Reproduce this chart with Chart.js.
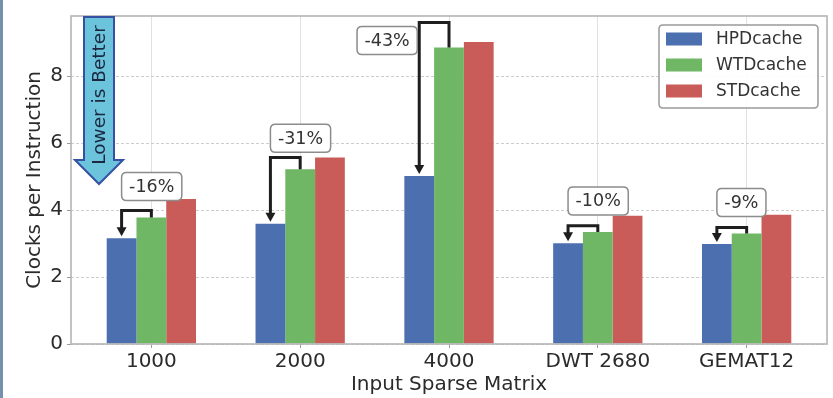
<!DOCTYPE html>
<html>
<head>
<meta charset="utf-8">
<script src="https://cdn.jsdelivr.net/npm/chart.js@4"></script>
<style>
  html, body { margin: 0; padding: 0; background: #fff; }
  #wrap { width: 833px; height: 398px; }
</style>
</head>
<body>
<div id="wrap"><canvas id="cpi" width="833" height="398"></canvas></div>
<script>
// Clocks per instruction for each input sparse matrix
const categories = ['1000', '2000', '4000', 'DWT 2680', 'GEMAT12'];
const seriesNames = ['HPDcache', 'WTDcache', 'STDcache'];
const hpdCPI = [3.16, 3.59, 5.02, 3.01, 2.99];
const wtdCPI = [3.78, 5.22, 8.86, 3.35, 3.30];
const stdCPI = [4.33, 5.57, 9.02, 3.83, 3.86];
const yTicks = [0, 2, 4, 6, 8];

const COLORS = ['#4c6fb0', '#6fb665', '#c95c58'];
const FONT = '"DejaVu Sans", "Liberation Sans", sans-serif';
const TEXT = '#2b2b2b';

// HPDcache change relative to WTDcache, in percent
const reductions = hpdCPI.map((h, i) => Math.round((h / wtdCPI[i] - 1) * 100) + '%');

const toPoints = arr => arr.map((v, i) => ({ x: i, y: v }));

// page background plus the thin slate strip on the left edge
const backdrop = {
  id: 'backdrop',
  beforeDraw(chart) {
    const { ctx, width, height } = chart;
    ctx.save();
    ctx.fillStyle = '#ffffff';
    ctx.fillRect(0, 0, width, height);
    ctx.fillStyle = '#7590ad';
    ctx.fillRect(0, 0, 3, height);
    ctx.restore();
  }
};

function roundRect(ctx, x, y, w, h, r) {
  ctx.beginPath();
  ctx.moveTo(x + r, y);
  ctx.lineTo(x + w - r, y);
  ctx.quadraticCurveTo(x + w, y, x + w, y + r);
  ctx.lineTo(x + w, y + h - r);
  ctx.quadraticCurveTo(x + w, y + h, x + w - r, y + h);
  ctx.lineTo(x + r, y + h);
  ctx.quadraticCurveTo(x, y + h, x, y + h - r);
  ctx.lineTo(x, y + r);
  ctx.quadraticCurveTo(x, y, x + r, y);
  ctx.closePath();
}

// frame, bracket arrows with percentage boxes, "Lower is Better" arrow, legend
const overlays = {
  id: 'overlays',
  afterDatasetsDraw(chart) {
    const { ctx, chartArea: area } = chart;
    const blue = chart.getDatasetMeta(0).data;
    const green = chart.getDatasetMeta(1).data;

    ctx.save();
    // plot frame
    ctx.strokeStyle = '#b4b4b4';
    ctx.lineWidth = 1.6;
    ctx.strokeRect(area.left, area.top, area.right - area.left, area.bottom - area.top);

    // brackets from WTDcache bar down to HPDcache bar
    blue.forEach((bBar, i) => {
      const gBar = green[i];
      const xB = bBar.x, yB = bBar.y, xG = gBar.x, yG = gBar.y;
      const dist = Math.hypot(xG - xB, yG - yB);
      const topY = Math.min(yG, yB) - 0.19 * dist;
      const head = 9, half = 5, tipY = yB - 2;

      ctx.strokeStyle = '#1e1e1e';
      ctx.fillStyle = '#1e1e1e';
      ctx.lineWidth = 3;
      ctx.lineJoin = 'miter';
      ctx.beginPath();
      ctx.moveTo(xG, yG);
      ctx.lineTo(xG, topY);
      ctx.lineTo(xB, topY);
      ctx.lineTo(xB, tipY - head + 1);
      ctx.stroke();
      ctx.beginPath();
      ctx.moveTo(xB, tipY);
      ctx.lineTo(xB - half, tipY - head);
      ctx.lineTo(xB + half, tipY - head);
      ctx.closePath();
      ctx.fill();

      // percentage box
      ctx.font = '17.5px ' + FONT;
      const label = reductions[i];
      const tw = ctx.measureText(label).width;
      const bw = tw + 15, bh = 28;
      let left, cy = yG - 31;
      if (cy - bh / 2 < area.top + 2) {
        cy = topY + 18;
        left = xB - 2 - bw;
      } else {
        left = xB;
      }
      roundRect(ctx, left, cy - bh / 2, bw, bh, 5);
      ctx.fillStyle = '#ffffff';
      ctx.fill();
      ctx.strokeStyle = '#8c8c8c';
      ctx.lineWidth = 1.5;
      ctx.stroke();
      ctx.fillStyle = '#333333';
      ctx.textAlign = 'center';
      ctx.textBaseline = 'middle';
      ctx.fillText(label, left + bw / 2, cy + 1);
    });

    // "Lower is Better" down arrow
    const cx = area.left + 28;
    const shaftHalf = 15, headHalf = 24;
    const shaftEnd = area.top + 144, tip = area.top + 168;
    ctx.beginPath();
    ctx.moveTo(cx - shaftHalf, area.top + 1);
    ctx.lineTo(cx + shaftHalf, area.top + 1);
    ctx.lineTo(cx + shaftHalf, shaftEnd);
    ctx.lineTo(cx + headHalf, shaftEnd);
    ctx.lineTo(cx, tip);
    ctx.lineTo(cx - headHalf, shaftEnd);
    ctx.lineTo(cx - shaftHalf, shaftEnd);
    ctx.closePath();
    ctx.fillStyle = '#6cc3dc';
    ctx.fill();
    ctx.strokeStyle = '#3650a2';
    ctx.lineWidth = 2;
    ctx.lineJoin = 'miter';
    ctx.stroke();
    ctx.save();
    ctx.translate(cx + 1, area.top + 79);
    ctx.rotate(-Math.PI / 2);
    ctx.font = '18.5px ' + FONT;
    ctx.fillStyle = '#1c2740';
    ctx.textAlign = 'center';
    ctx.textBaseline = 'middle';
    ctx.fillText('Lower is Better', 0, 0);
    ctx.restore();

    // legend box in the upper right corner
    const lx = area.right - 168, ly = area.top + 9, lw = 159, lh = 83;
    roundRect(ctx, lx, ly, lw, lh, 4);
    ctx.fillStyle = 'rgba(255,255,255,0.9)';
    ctx.fill();
    ctx.strokeStyle = '#9a9a9a';
    ctx.lineWidth = 1.5;
    ctx.stroke();
    ctx.font = '17px ' + FONT;
    ctx.textAlign = 'left';
    ctx.textBaseline = 'middle';
    chart.data.datasets.forEach((ds, k) => {
      const rowY = ly + 14 + k * 26;
      ctx.fillStyle = ds.backgroundColor;
      ctx.fillRect(lx + 7, rowY - 6.5, 36, 13);
      ctx.fillStyle = '#333333';
      ctx.fillText(ds.label, lx + 57, rowY + 1);
    });
    ctx.restore();
  }
};

new Chart(document.getElementById('cpi'), {
  type: 'bar',
  data: {
    datasets: [
      { label: seriesNames[0], data: toPoints(hpdCPI), backgroundColor: COLORS[0] },
      { label: seriesNames[1], data: toPoints(wtdCPI), backgroundColor: COLORS[1] },
      { label: seriesNames[2], data: toPoints(stdCPI), backgroundColor: COLORS[2] }
    ]
  },
  options: {
    responsive: false,
    animation: false,
    devicePixelRatio: 1,
    layout: { padding: { left: 0, right: 6, top: 6, bottom: 0 } },
    datasets: { bar: { categoryPercentage: 0.6, barPercentage: 1.0, borderWidth: 0 } },
    plugins: { legend: { display: false }, tooltip: { enabled: false } },
    scales: {
      x: {
        type: 'linear',
        offset: false,
        min: -0.54,
        max: 4.54,
        afterBuildTicks(scale) { scale.ticks = categories.map((_, i) => ({ value: i })); },
        afterFit(scale) { scale.height = 54; },
        ticks: {
          callback: v => categories[v],
          font: { family: FONT, size: 20 },
          color: TEXT,
          padding: 2,
          maxRotation: 0,
          autoSkip: false
        },
        grid: { offset: false, color: '#e0e0e0', lineWidth: 1, tickLength: 4, tickColor: '#9a9a9a' },
        border: { display: false },
        title: {
          display: true,
          text: 'Input Sparse Matrix',
          font: { family: FONT, size: 20 },
          color: TEXT,
          padding: { top: 0, bottom: 1 }
        }
      },
      y: {
        min: 0,
        max: 9.8,
        afterBuildTicks(scale) { scale.ticks = yTicks.map(v => ({ value: v })); },
        afterFit(scale) { scale.width = 71; },
        ticks: {
          font: { family: FONT, size: 20 },
          color: TEXT,
          padding: 4
        },
        grid: { color: '#cdcdcd', lineWidth: 1, tickLength: 4, tickColor: '#9a9a9a' },
        border: { display: false, dash: [3, 2] },
        title: {
          display: true,
          text: 'Clocks per Instruction',
          font: { family: FONT, size: 20 },
          color: TEXT,
          padding: { top: 23, bottom: 0 }
        }
      }
    }
  },
  plugins: [backdrop, overlays]
});
</script>
</body>
</html>
